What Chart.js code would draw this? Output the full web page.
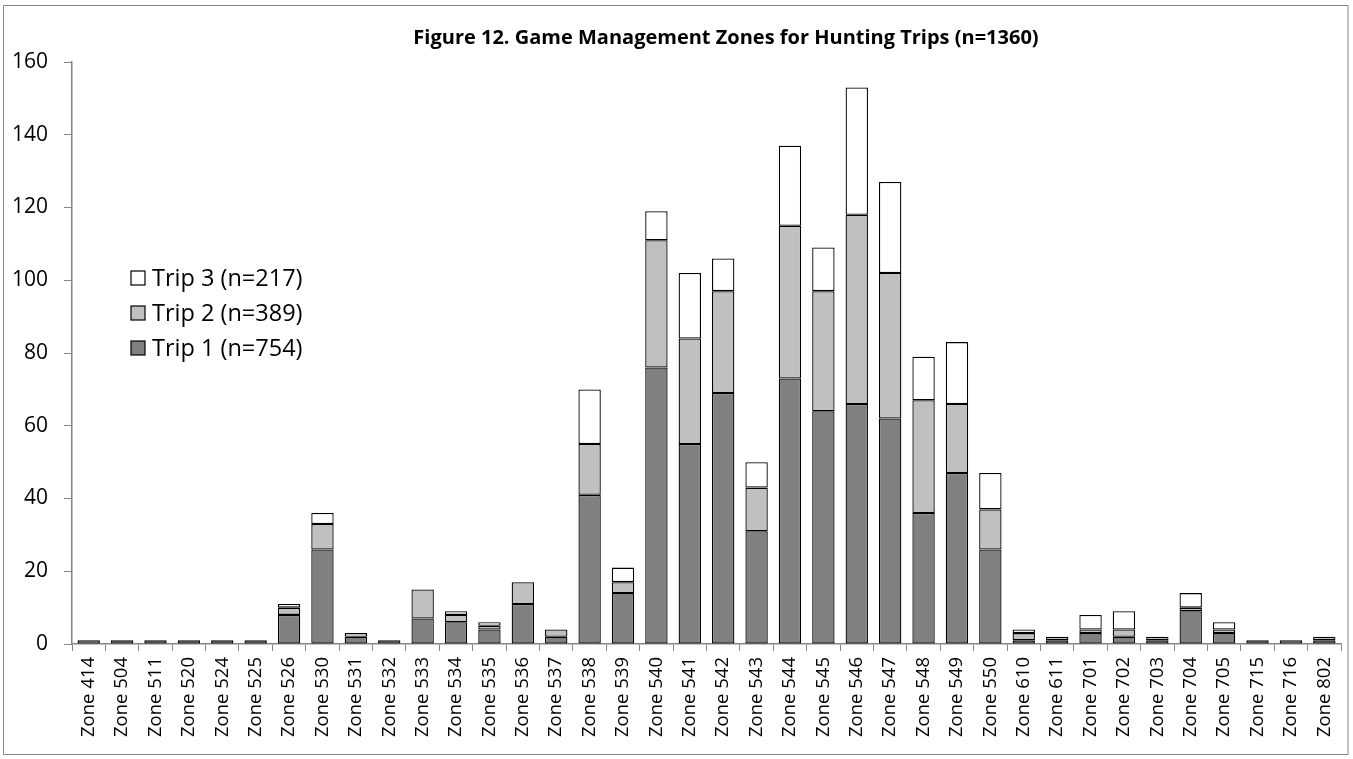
<!DOCTYPE html>
<html>
<head>
<meta charset="utf-8">
<script src="https://cdn.jsdelivr.net/npm/chart.js@4/dist/chart.umd.min.js"></script>
<style>
  html, body { margin: 0; padding: 0; background: #fff; }
  #wrap { width: 1353px; height: 759px; position: relative; }
</style>
</head>
<body>
<div id="wrap"><canvas id="zoneChart" width="1353" height="759"></canvas></div>
<script>
const zones = ["Zone 414", "Zone 504", "Zone 511", "Zone 520", "Zone 524", "Zone 525", "Zone 526", "Zone 530",
  "Zone 531", "Zone 532", "Zone 533", "Zone 534", "Zone 535", "Zone 536", "Zone 537", "Zone 538", "Zone 539",
  "Zone 540", "Zone 541", "Zone 542", "Zone 543", "Zone 544", "Zone 545", "Zone 546", "Zone 547", "Zone 548",
  "Zone 549", "Zone 550", "Zone 610", "Zone 611", "Zone 701", "Zone 702", "Zone 703", "Zone 704", "Zone 705",
  "Zone 715", "Zone 716", "Zone 802"];

const trip1 = [0, 1, 1, 1, 1, 1, 8, 26, 2, 1, 7, 6, 4, 11, 2, 41, 14, 76, 55, 69, 31, 73, 64, 66, 62, 36,
  47, 26, 1, 1, 3, 2, 1, 9, 3, 1, 0, 1];
const trip2 = [1, 0, 0, 0, 0, 0, 2, 7, 0, 0, 8, 2, 1, 6, 2, 14, 3, 35, 29, 28, 12, 42, 33, 52, 40, 31,
  19, 11, 2, 1, 1, 2, 1, 1, 1, 0, 1, 1];
const trip3 = [0, 0, 0, 0, 0, 0, 1, 3, 1, 0, 0, 1, 1, 0, 0, 15, 4, 8, 18, 9, 7, 22, 12, 35, 25, 12,
  17, 10, 1, 0, 4, 5, 0, 4, 2, 0, 0, 0];

const yTicks = [0, 20, 40, 60, 80, 100, 120, 140, 160];
const titleText = "Figure 12. Game Management Zones for Hunting Trips (n=1360)";

const axisGrey = "#868686";
const font = "'Open Sans', 'Liberation Sans', sans-serif";

// frame around the whole chart, title, and the legend inside the plot
const decorations = {
  id: "decorations",
  afterDraw(chart) {
    const ctx = chart.ctx;
    ctx.save();
    ctx.strokeStyle = axisGrey;
    ctx.lineWidth = 1;
    ctx.strokeRect(3.5, 5.5, 1344.5, 749);

    ctx.fillStyle = "#000";
    ctx.font = "bold 20px " + font;
    ctx.textAlign = "center";
    ctx.textBaseline = "middle";
    ctx.fillText(titleText, 726, 38);

    ctx.font = "23.5px " + font;
    ctx.textAlign = "left";
    const items = chart.data.datasets.slice().reverse();
    items.forEach((ds, i) => {
      const y = 278 + i * 35;
      ctx.fillStyle = ds.backgroundColor;
      ctx.fillRect(131, y - 7, 14, 14);
      ctx.strokeStyle = "#000";
      ctx.lineWidth = 1.2;
      ctx.strokeRect(131, y - 7, 14, 14);
      ctx.fillStyle = "#000";
      ctx.fillText(ds.label, 152, y + 1);
    });
    ctx.restore();
  }
};

function series(label, data, color) {
  return {
    label: label,
    data: data,
    backgroundColor: color,
    borderColor: "#000",
    borderWidth: 1.3,
    borderSkipped: false,
    categoryPercentage: 1,
    barPercentage: 0.67,
  };
}

new Chart(document.getElementById("zoneChart").getContext("2d"), {
  type: "bar",
  data: {
    labels: zones,
    datasets: [
      series("Trip 1 (n=754)", trip1, "#808080"),
      series("Trip 2 (n=389)", trip2, "#c0c0c0"),
      series("Trip 3 (n=217)", trip3, "#ffffff"),
    ],
  },
  options: {
    responsive: false,
    animation: false,
    layout: { padding: { left: 4, right: 12, top: 62, bottom: 0 } },
    plugins: {
      legend: { display: false },
      title: { display: false },
      tooltip: { enabled: false },
    },
    scales: {
      x: {
        stacked: true,
        afterFit(scale) { scale.height = 115; },
        grid: { drawOnChartArea: false, drawTicks: true, tickLength: 7, color: axisGrey, offset: true },
        border: { display: true, color: axisGrey, width: 1.5 },
        ticks: {
          color: "#000",
          font: { family: font, size: 18.5 },
          maxRotation: 90,
          minRotation: 90,
          autoSkip: false,
          padding: 6,
        },
      },
      y: {
        stacked: true,
        min: 0,
        max: 160,
        afterFit(scale) { scale.width = 68; },
        afterBuildTicks(scale) { scale.ticks = yTicks.map((v) => ({ value: v })); },
        grid: { drawOnChartArea: false, drawTicks: true, tickLength: 8, color: axisGrey },
        border: { display: true, color: axisGrey, width: 1.5 },
        ticks: {
          color: "#000",
          font: { family: font, size: 21 },
          padding: 16,
        },
      },
    },
  },
  plugins: [decorations],
});
</script>
</body>
</html>
